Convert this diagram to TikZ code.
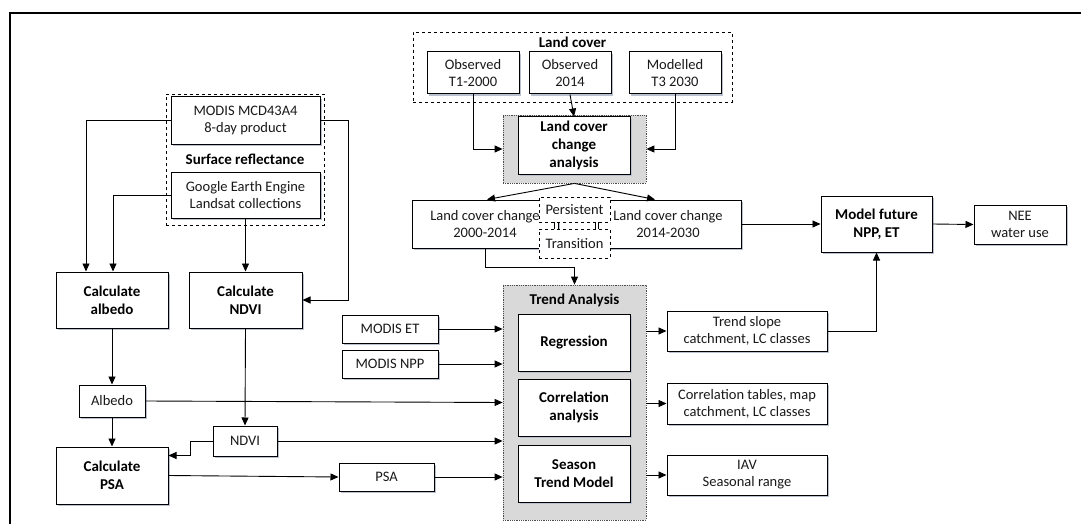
\documentclass[tikz,border=0pt]{standalone}
\usepackage{fontspec}
\setmainfont{Carlito}
\usetikzlibrary{arrows.meta,shadows}
\newcommand\rgfont{\fontsize{14.5}{17}\selectfont}
\newcommand\bdfont{\fontsize{15}{18}\selectfont\bfseries}
\definecolor{shadowc}{RGB}{185,193,208}
\definecolor{groupgray}{RGB}{217,217,217}
\definecolor{txt}{RGB}{25,25,25}
\tikzset{
  box/.style={draw, fill=white, line width=1pt, align=center, inner sep=0pt,
    font=\rgfont, text=txt,
    drop shadow={shadow xshift=2pt, shadow yshift=-2pt, fill=shadowc, opacity=1}},
  bbox/.style={box, font=\bdfont, text=black},
  dgroup/.style={draw, dashed, line width=0.9pt, inner sep=0pt},
  ggroup/.style={draw=black!70, densely dotted, line width=0.8pt, fill=groupgray, inner sep=0pt},
  dbox/.style={draw, dashed, fill=white, line width=0.9pt, inner sep=0pt, font=\rgfont, text=txt},
  glabel/.style={font=\bdfont, inner sep=0pt},
  arr/.style={line width=0.9pt, -{Triangle[length=8pt,width=7pt]}},
  ln/.style={line width=0.9pt}
}
\begin{document}
\begin{tikzpicture}[x=1pt,y=-1pt]
\useasboundingbox (0,0) rectangle (1081,524);
% frame (cropped)
\draw[line width=2pt] (10,524) -- (10,13) -- (1081,13);

% Surface reflectance group
\node[dgroup, minimum width=158pt, minimum height=131pt] (srg) at (245,159.5) {};
\node[box, minimum width=149pt, minimum height=47pt] (modis) at (245.5,120.5) {MODIS MCD43A4\\8-day product};
\node[glabel] (srl) at (245,159) {Surface reflectance};
\node[box, minimum width=149pt, minimum height=46pt] (gee) at (245.5,195) {Google Earth Engine\\Landsat collections};

% left column
\node[bbox, minimum width=112pt, minimum height=56pt] (calb) at (112,300) {Calculate\\albedo};
\node[bbox, minimum width=113pt, minimum height=56pt] (cndvi) at (245.5,300) {Calculate\\NDVI};
\node[box, minimum width=66pt, minimum height=32pt] (albedo) at (112,401) {Albedo};
\node[box, minimum width=64pt, minimum height=30pt] (ndvi) at (245,441) {NDVI};
\node[bbox, minimum width=112pt, minimum height=57pt] (cpsa) at (112,475.5) {Calculate\\PSA};
\node[box, minimum width=95pt, minimum height=28pt] (psa) at (386.5,477) {PSA};
\node[box, minimum width=96pt, minimum height=28pt] (modiset) at (390,329) {MODIS ET};
\node[box, minimum width=96pt, minimum height=28pt] (modisnpp) at (390,364) {MODIS NPP};

% Trend analysis group
\node[ggroup, minimum width=143pt, minimum height=235pt] (tg) at (574.5,402.5) {};
\node[glabel] (tgl) at (574.5,300) {Trend Analysis};
\node[bbox, minimum width=112pt, minimum height=57pt] (regr) at (574,342.5) {Regression};
\node[bbox, minimum width=112pt, minimum height=57pt] (corr) at (574,407.5) {Correlation\\analysis};
\node[bbox, minimum width=112pt, minimum height=57pt] (season) at (574,473.5) {Season\\Trend Model};

% outputs
\node[box, minimum width=160pt, minimum height=40pt] (out1) at (747,331) {Trend slope\\catchment, LC classes};
\node[box, minimum width=160pt, minimum height=41pt] (out2) at (747,403.5) {Correlation tables, map\\catchment, LC classes};
\node[box, minimum width=160pt, minimum height=40pt] (out3) at (747,475) {IAV\\Seasonal range};
\node[bbox, minimum width=111pt, minimum height=56pt] (model) at (876.5,224) {Model future\\NPP, ET};
\node[box, minimum width=92pt, minimum height=39pt] (nee) at (1020,224.5) {NEE\\water use};

% Land cover group
\node[dgroup, minimum width=319pt, minimum height=70pt] (lcg) at (572.5,67) {};
\node[glabel] (lcl) at (572.5,42) {Land cover};
\node[box, minimum width=92pt, minimum height=42pt] (obs1) at (473,73) {Observed\\T1-2000};
\node[box, minimum width=82pt, minimum height=42pt] (obs2) at (570,73) {Observed\\2014};
\node[box, minimum width=92pt, minimum height=42pt] (mod3) at (675,73) {Modelled\\T3 2030};

% Land cover change analysis
\node[ggroup, minimum width=143pt, minimum height=68pt] (lccg) at (574.5,149) {};
\node[bbox, minimum width=112pt, minimum height=57pt] (lcca) at (574,145.5) {Land cover\\change\\analysis};

\node[box, minimum width=146pt, minimum height=48pt] (lcc1) at (485,224) {Land cover change\\2000-2014};
\node[box, minimum width=146pt, minimum height=48pt] (lcc2) at (668,224) {Land cover change\\2014-2030};
\node[dbox, minimum width=71pt, minimum height=25pt] (pers) at (574.5,209.5) {Persistent};
\node[dbox, minimum width=71pt, minimum height=29pt] (trans) at (574.5,243.5) {Transition};
\draw[ln] ([xshift=-20.5pt]pers.south) -- ([xshift=-20.5pt]trans.north);
\draw[ln] ([xshift=23.5pt]pers.south) -- ([xshift=23.5pt]trans.north);

% connectors
\draw[arr] (modis.west) -| ([xshift=-26pt]calb.north);
\draw[arr] (gee.west) -| ([xshift=1pt]calb.north);
\draw[arr] (modis.east) -- ++(28,0) |- (cndvi.east);
\draw[arr] (gee.south) -- (cndvi.north);
\draw[arr] (calb.south) -- (albedo.north);
\draw[arr] (albedo.south) -- (cpsa.north);
\draw[arr] (cndvi.south) -- (ndvi.north);
\draw[arr] (ndvi.west) -- ++(-22,0) |- ([yshift=20pt]cpsa.east);
\draw[arr] (cpsa.east) -- (psa.west);
\draw[arr] (albedo.east) -- ([yshift=-1.5pt]albedo.east -| tg.west);
\draw[arr] (ndvi.east) -- (ndvi.east -| tg.west);
\draw[arr] (psa.east) -- (psa.east -| tg.west);
\draw[arr] (modiset.east) -- (modiset.east -| tg.west);
\draw[arr] (modisnpp.east) -- (modisnpp.east -| tg.west);
\draw[arr] (out1.west -| tg.east) -- (out1.west);
\draw[arr] (out2.west -| tg.east) -- (out2.west);
\draw[arr] (out3.west -| tg.east) -- (out3.west);
\draw[arr] (out1.east) -| (model.south);
\draw[arr] (model.east) -- (nee.west);
\draw[arr] (lcc2.east) -- (model.west);
\draw[arr] (obs2.south) -- (lcca.north);
\draw[arr] (obs1.south) |- (lccg.west);
\draw[arr] (mod3.south) |- (lccg.east);
\draw[arr] (lccg.south) -- ([xshift=2pt]lcc1.north);
\draw[arr] (lccg.south) -- ([xshift=-13pt]lcc2.north);
\draw[arr] (lcc1.south) -- ++(0,19) -| (tg.north);
\end{tikzpicture}
\end{document}
